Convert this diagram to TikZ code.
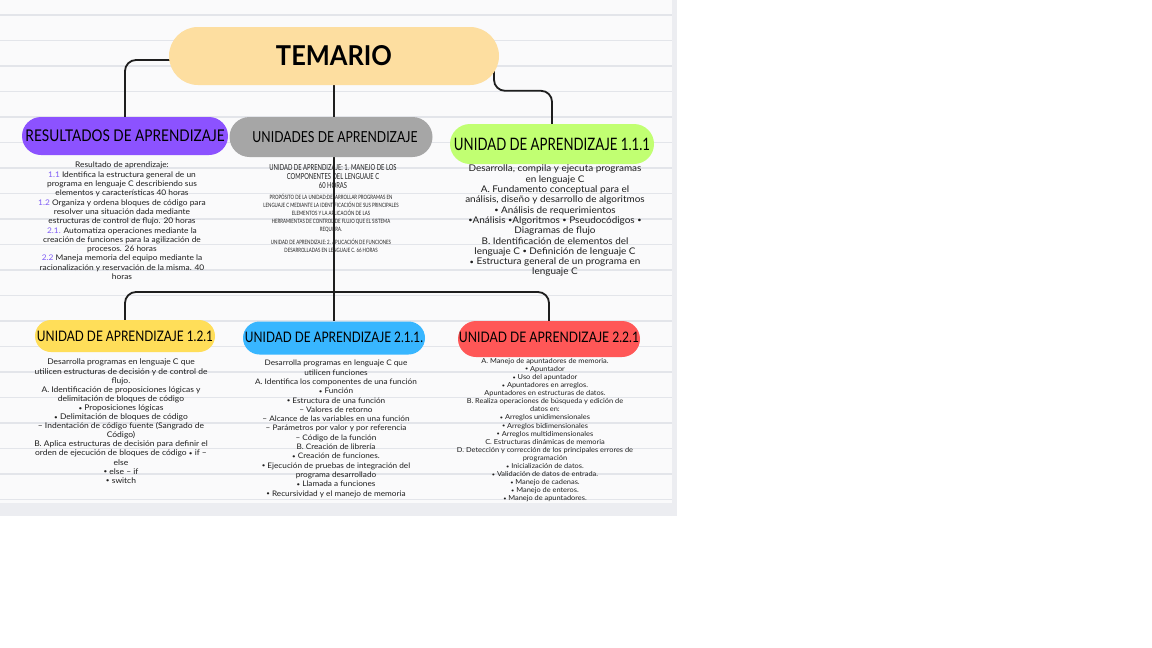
\documentclass[tikz,border=0pt]{standalone}
\usepackage{fontspec}
\usepackage{graphicx}
\setmainfont{Lato}[FakeStretch=1.08]
\newfontfamily\condfont[FakeStretch=0.70]{Lato}
\newfontfamily\condfontb[FakeStretch=0.74]{Lato}
\newfontfamily\headfont{Lato}
\newcommand{\bul}{\raisebox{0.06em}{\scalebox{0.75}{•}}}
\definecolor{peach}{HTML}{FDDEA0}
\definecolor{purp}{HTML}{8C52FF}
\definecolor{numpurp}{HTML}{7E5BF5}
\definecolor{greyp}{HTML}{A6A6A6}
\definecolor{lime}{HTML}{C1FF72}
\definecolor{sun}{HTML}{FFDE59}
\definecolor{sky}{HTML}{38B6FF}
\definecolor{coral}{HTML}{FF5757}
\definecolor{panel}{HTML}{ECEDF1}
\definecolor{paper}{HTML}{FAFAFB}
\definecolor{rule}{HTML}{E3E5EA}
\definecolor{ink}{HTML}{1E1E1E}
\pgfdeclarelayer{bg}
\pgfdeclarelayer{links}
\pgfsetlayers{bg,links,main}
\tikzset{
  pill/.style={inner sep=0pt, text=black, align=center},
  conn/.style={draw=ink, line width=1.8pt, rounded corners=11pt},
  body/.style={inner sep=0pt, align=center, text=ink, anchor=north},
}
\newcommand{\hd}[3]{\resizebox{#1pt}{#2pt}{\headfont #3}}
\begin{document}
\begin{tikzpicture}[x=1pt,y=-1pt]
\useasboundingbox (0,0) rectangle (1152,648);
\begin{pgfonlayer}{bg}
\fill[white] (0,0) rectangle (1152,648);
\fill[panel] (0,0) rectangle (677,516);
\fill[paper] (0,0) rectangle (672,503);
\foreach \k in {0,...,19} {
  \draw[rule, line width=1.3pt] (0,{15+25.5*\k}) -- (672,{15+25.5*\k});
}
\end{pgfonlayer}

% pills
\node[pill, fill=peach, minimum width=330pt, minimum height=58pt, rounded corners=29pt] (temario) at (334,56) {\resizebox{116pt}{20pt}{\headfont\bfseries TEMARIO}};
\node[pill, fill=purp, minimum width=206pt, minimum height=38pt, rounded corners=19pt] (res) at (125,136) {\raisebox{1.5pt}{\hd{199}{11.7}{RESULTADOS DE APRENDIZAJE}}};
\node[pill, fill=greyp, minimum width=203pt, minimum height=40pt, rounded corners=20pt] (uni) at (331,137) {\hspace*{8pt}\hd{165}{11}{UNIDADES DE APRENDIZAJE}};
\node[pill, fill=lime, minimum width=204pt, minimum height=40pt, rounded corners=20pt] (green) at (552,144) {\hd{196}{12.3}{UNIDAD DE APRENDIZAJE 1.1.1}};
\node[pill, fill=sun, minimum width=180pt, minimum height=32pt, rounded corners=16pt] (yel) at (125,336) {\hd{176}{10.5}{UNIDAD DE APRENDIZAJE 1.2.1}};
\node[pill, fill=sky, minimum width=182pt, minimum height=33pt, rounded corners=16.5pt] (blue) at (334,338) {\raisebox{2pt}{\hd{178}{10.5}{UNIDAD DE APRENDIZAJE 2.1.1.}}};
\node[pill, fill=coral, minimum width=182pt, minimum height=36pt, rounded corners=18pt] (red) at (549,339) {\raisebox{4pt}{\hd{180}{10.5}{UNIDAD DE APRENDIZAJE 2.2.1}}};

% text blocks
\node[body, font=\fontsize{7.75}{9.3}\selectfont] (restext) at (122,162) {%
Resultado de aprendizaje:\\
{\color{numpurp}1.1} Identifica la estructura general de un\\
programa en lenguaje C describiendo sus\\
elementos y características 40 horas\\
{\color{numpurp}1.2} Organiza y ordena bloques de código para\\
resolver una situación dada mediante\\
estructuras de control de flujo. 20 horas\\
{\color{numpurp}2.1.} Automatiza operaciones mediante la\\
creación de funciones para la agilización de\\
procesos. 26 horas\\
{\color{numpurp}2.2} Maneja memoria del equipo mediante la\\
racionalización y reservación de la misma. 40\\
horas};

\node[body, font=\condfont\fontsize{8.3}{9.3}\selectfont] (unitA) at (333,164) {%
UNIDAD DE APRENDIZAJE: 1. MANEJO DE LOS\\
COMPONENTES DEL LENGUAJE C\\
60 HORAS};
\node[body, font=\condfontb\fontsize{5.9}{8}\selectfont] (unitB) at (331,194) {%
PROPÓSITO DE LA UNIDAD:DESARROLLAR PROGRAMAS EN\\
LENGUAJE C MEDIANTE LA IDENTIFICACIÓN DE SUS PRINCIPALES\\
ELEMENTOS Y LA APLICACIÓN DE LAS\\
HERRAMIENTAS DE CONTROL DE FLUJO QUE EL SISTEMA\\
REQUIERA.};
\node[body, font=\condfontb\fontsize{5.9}{8}\selectfont] (unitC) at (331,239) {%
UNIDAD DE APRENDIZAJE: 2. APLICACIÓN DE FUNCIONES\\
DESARROLLADAS EN LENGUAJE C. 66 HORAS};

\node[body, font=\fontsize{9.2}{10.3}\selectfont] (ua111) at (555,165) {%
Desarrolla, compila y ejecuta programas\\
en lenguaje C\\
A. Fundamento conceptual para el\\
análisis, diseño y desarrollo de algoritmos\\
\bul{} Análisis de requerimientos\\
\bul Análisis \bul Algoritmos \bul{} Pseudocódigos \bul\\
Diagramas de flujo\\
B. Identificación de elementos del\\
lenguaje C \bul{} Definición de lenguaje C\\
\bul{} Estructura general de un programa en\\
lenguaje C};

\node[body, font=\fontsize{7.85}{9.1}\selectfont] (ua121) at (121,359) {%
Desarrolla programas en lenguaje C que\\
utilicen estructuras de decisión y de control de\\
flujo.\\
A. Identificación de proposiciones lógicas y\\
delimitación de bloques de código\\
\bul{} Proposiciones lógicas\\
\bul{} Delimitación de bloques de código\\
– Indentación de código fuente (Sangrado de\\
Código)\\
B. Aplica estructuras de decisión para definir el\\
orden de ejecución de bloques de código \bul{} if –\\
else\\
\bul{} else – if\\
\bul{} switch};

\node[body, font=\fontsize{7.6}{9.3}\selectfont] (ua211) at (336,360) {%
Desarrolla programas en lenguaje C que\\
utilicen funciones\\
A. Identifica los componentes de una función\\
\bul{} Función\\
\bul{} Estructura de una función\\
– Valores de retorno\\
– Alcance de las variables en una función\\
– Parámetros por valor y por referencia\\
– Código de la función\\
B. Creación de librería\\
\bul{} Creación de funciones.\\
\bul{} Ejecución de pruebas de integración del\\
programa desarrollado\\
\bul{} Llamada a funciones\\
\bul{} Recursividad y el manejo de memoria};

\node[body, font=\fontsize{6.85}{8.1}\selectfont] (ua221) at (545,358) {%
A. Manejo de apuntadores de memoria.\\
\bul{} Apuntador\\
\bul{} Uso del apuntador\\
\bul{} Apuntadores en arreglos.\\
Apuntadores en estructuras de datos.\\
B. Realiza operaciones de búsqueda y edición de\\
datos en:\\
\bul{} Arreglos unidimensionales\\
\bul{} Arreglos bidimensionales\\
\bul{} Arreglos multidimensionales\\
C. Estructuras dinámicas de memoria\\
D. Detección y corrección de los principales errores de\\
programación\\
\bul{} Inicialización de datos.\\
\bul{} Validación de datos de entrada.\\
\bul{} Manejo de cadenas.\\
\bul{} Manejo de enteros.\\
\bul{} Manejo de apuntadores.};

% connectors
\coordinate (tr) at (494,70);
\coordinate (bus) at (334,292);
\begin{pgfonlayer}{links}
\draw[conn] ([xshift=4pt,yshift=-4pt]temario.west) -| (res.north);
\draw[conn] (tr) |- ([yshift=33pt]green.north) -- (green.north);
\draw[conn] (temario.south) -- (blue.north);
\draw[conn] (yel.north) |- (bus) -| (red.north);
\end{pgfonlayer}
\end{tikzpicture}
\end{document}
